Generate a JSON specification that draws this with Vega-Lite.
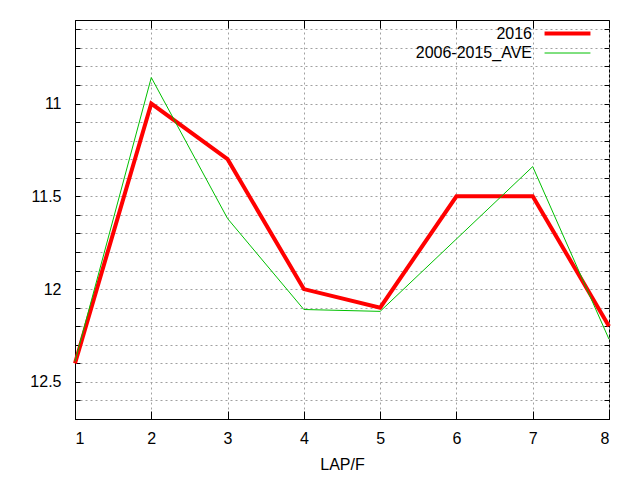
{
  "$schema": "https://vega.github.io/schema/vega-lite/v6.json",
  "width": 534,
  "height": 399,
  "autosize": "none",
  "padding": {"left": 75, "top": 20, "right": 31, "bottom": 61},
  "background": "white",
  "config": {
    "font": "Liberation Sans",
    "view": {"stroke": "black", "strokeWidth": 1},
    "axis": {
      "domainColor": "black",
      "tickColor": "black",
      "labelColor": "black",
      "titleColor": "black",
      "labelFontSize": 16,
      "titleFontSize": 16,
      "titleFontWeight": "normal",
      "gridColor": "#a0a0a0",
      "gridDash": [2, 3],
      "gridOpacity": 1
    },
    "legend": {
      "title": null,
      "orient": "top-right",
      "offset": 3,
      "padding": 0,
      "symbolType": "M-2.7,0H2.7M3.55,0H3.55",
      "symbolSize": 289,
      "labelFontSize": 16,
      "labelColor": "black",
      "labelAlign": "right",
      "labelOffset": -46,
      "rowPadding": 2
    }
  },
  "data": {
    "values": [
      {"lap": 1, "series": "2016", "time": 12.4},
      {"lap": 2, "series": "2016", "time": 11.0},
      {"lap": 3, "series": "2016", "time": 11.3},
      {"lap": 4, "series": "2016", "time": 12.0},
      {"lap": 5, "series": "2016", "time": 12.1},
      {"lap": 6, "series": "2016", "time": 11.5},
      {"lap": 7, "series": "2016", "time": 11.5},
      {"lap": 8, "series": "2016", "time": 12.2},
      {"lap": 1, "series": "2006-2015_AVE", "time": 12.39},
      {"lap": 2, "series": "2006-2015_AVE", "time": 10.86},
      {"lap": 3, "series": "2006-2015_AVE", "time": 11.62},
      {"lap": 4, "series": "2006-2015_AVE", "time": 12.11},
      {"lap": 5, "series": "2006-2015_AVE", "time": 12.12},
      {"lap": 6, "series": "2006-2015_AVE", "time": 11.73},
      {"lap": 7, "series": "2006-2015_AVE", "time": 11.34},
      {"lap": 8, "series": "2006-2015_AVE", "time": 12.27}
    ]
  },
  "layer": [
    {
      "mark": {"type": "line", "strokeJoin": "miter"},
      "encoding": {
        "x": {
          "field": "lap",
          "type": "quantitative",
          "scale": {"domain": [1, 8], "nice": false, "zero": false},
          "axis": {
            "title": "LAP/F",
            "values": [1, 2, 3, 4, 5, 6, 7, 8],
            "format": "d",
            "grid": true,
            "tickSize": -8,
            "labelPadding": 19,
            "titlePadding": 10
          }
        },
        "y": {
          "field": "time",
          "type": "quantitative",
          "scale": {"domain": [10.55, 12.7], "reverse": true, "nice": false, "zero": false},
          "axis": {
            "title": null,
            "values": [10.6, 10.7, 10.8, 10.9, 11, 11.1, 11.2, 11.3, 11.4, 11.5, 11.6, 11.7, 11.8, 11.9, 12, 12.1, 12.2, 12.3, 12.4, 12.5, 12.6, 12.7],
            "format": "~g",
            "labelExpr": "abs(datum.value * 2 - round(datum.value * 2)) < 0.001 ? datum.label : ''",
            "grid": true,
            "tickSize": -5,
            "labelPadding": 19
          }
        },
        "color": {
          "field": "series",
          "type": "nominal",
          "sort": ["2016", "2006-2015_AVE"],
          "scale": {"domain": ["2016", "2006-2015_AVE"], "range": ["#ff0000", "#00c000"]}
        },
        "strokeWidth": {
          "field": "series",
          "type": "nominal",
          "sort": ["2016", "2006-2015_AVE"],
          "scale": {"domain": ["2016", "2006-2015_AVE"], "range": [4, 1]}
        },
        "order": {"field": "lap", "type": "quantitative"}
      }
    },
    {
      "mark": {"type": "line", "opacity": 0},
      "encoding": {
        "x": {
          "field": "lap",
          "type": "quantitative",
          "axis": {
            "orient": "top",
            "title": null,
            "values": [1, 2, 3, 4, 5, 6, 7, 8],
            "labels": false,
            "grid": false,
            "domain": false,
            "tickSize": -8
          }
        },
        "y": {
          "field": "time",
          "type": "quantitative",
          "axis": {
            "orient": "right",
            "title": null,
            "values": [10.6, 10.7, 10.8, 10.9, 11, 11.1, 11.2, 11.3, 11.4, 11.5, 11.6, 11.7, 11.8, 11.9, 12, 12.1, 12.2, 12.3, 12.4, 12.5, 12.6, 12.7],
            "labels": false,
            "grid": false,
            "domain": false,
            "tickSize": -5
          }
        },
        "detail": {"field": "series", "type": "nominal"}
      }
    }
  ],
  "resolve": {"axis": {"x": "independent", "y": "independent"}}
}
